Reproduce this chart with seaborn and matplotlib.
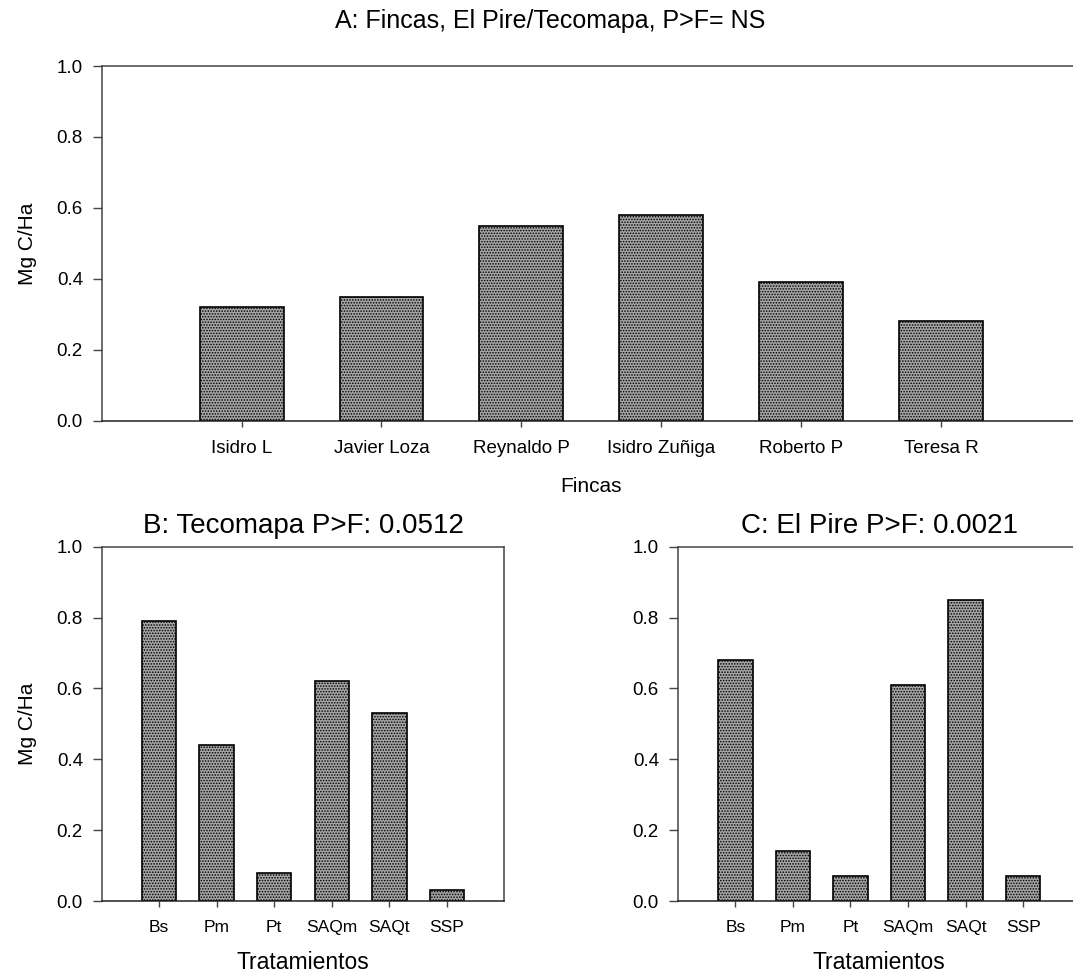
import matplotlib
matplotlib.use("Agg")
import matplotlib.pyplot as plt
import seaborn as sns

fincas = ["Isidro L", "Javier Loza", "Reynaldo P", "Isidro Zuñiga", "Roberto P", "Teresa R"]
carbono_fincas = [0.32, 0.35, 0.55, 0.58, 0.39, 0.28]

tratamientos = ["Bs", "Pm", "Pt", "SAQm", "SAQt", "SSP"]
carbono_tecomapa = [0.79, 0.44, 0.08, 0.62, 0.53, 0.03]
carbono_pire = [0.68, 0.14, 0.07, 0.61, 0.85, 0.07]

sns.set_style("ticks")
plt.rcParams['font.family'] = ['Liberation Sans', 'DejaVu Sans']
plt.rcParams['text.color'] = 'black'
plt.rcParams['axes.labelcolor'] = 'black'
plt.rcParams['xtick.labelcolor'] = 'black'
plt.rcParams['ytick.labelcolor'] = 'black'
plt.rcParams['hatch.color'] = '#262626'
plt.rcParams['hatch.linewidth'] = 0.75

W, H = 1073, 974
fig = plt.figure(figsize=(W / 100, H / 100), dpi=100)


def px_axes(left, top, right, bottom):
    return fig.add_axes([left / W, 1 - bottom / H, (right - left) / W, (bottom - top) / H])


def barras(ax, cats, vals, xtick_size):
    sns.barplot(x=cats, y=vals, order=cats, color='#a5a5a5', width=0.6,
                edgecolor='black', linewidth=1.2, saturation=1, ax=ax)
    for p in ax.patches:
        p.set_hatch('......')
    ax.set_xlim(-1, 6)
    ax.set_ylim(0, 1.0)
    ax.set_yticks([0.0, 0.2, 0.4, 0.6, 0.8, 1.0])
    ax.set_yticklabels(["0.0", "0.2", "0.4", "0.6", "0.8", "1.0"])
    for s in ax.spines.values():
        s.set_color('#444444')
        s.set_linewidth(1.1)
    ax.spines['bottom'].set_color('#222222')
    ax.tick_params(axis='y', direction='out', length=6.5, width=1, color='#444444',
                   labelsize=13.5, pad=7)
    ax.tick_params(axis='x', direction='out', length=4, width=1, color='#444444',
                   labelsize=xtick_size, pad=10)


## A: fincas
axA = px_axes(101.7, 66, 1081, 420.7)
barras(axA, fincas, carbono_fincas, 13.5)
axA.spines['right'].set_visible(False)
axA.set_xlabel('Fincas', fontsize=15, labelpad=14)
axA.set_ylabel('Mg C/Ha', fontsize=15, labelpad=14)
fig.text(550 / W, 1 - 21 / H, 'A: Fincas, El Pire/Tecomapa, P>F= NS', fontsize=18,
         ha='center', va='center')

## B: Tecomapa
axB = px_axes(101.7, 546.7, 504.3, 901)
barras(axB, tratamientos, carbono_tecomapa, 12.5)
axB.set_xlabel('Tratamientos', fontsize=16.5, labelpad=11)
axB.set_ylabel('Mg C/Ha', fontsize=15, labelpad=14)
axB.set_title('B: Tecomapa P>F: 0.0512', fontsize=20, pad=10)

## C: El Pire
axC = px_axes(677.7, 546.7, 1080.8, 901)
barras(axC, tratamientos, carbono_pire, 12.5)
axC.spines['right'].set_visible(False)
axC.set_xlabel('Tratamientos', fontsize=16.5, labelpad=11)
axC.set_title('C: El Pire P>F: 0.0021', fontsize=20, pad=10)

fig.savefig('out.png', dpi=100)
